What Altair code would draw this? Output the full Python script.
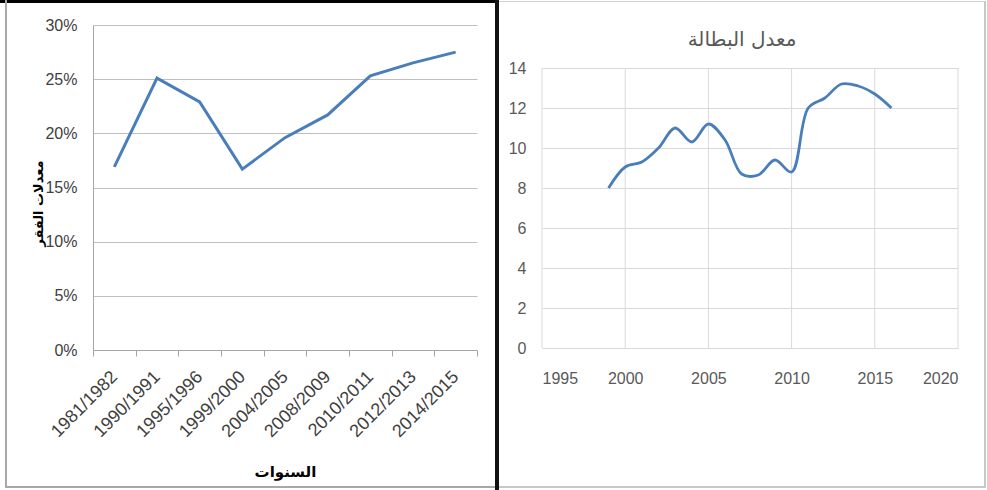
import altair as alt
import pandas as pd

# Poverty rates by survey period (left panel)
poverty_periods = ["1981/1982", "1990/1991", "1995/1996", "1999/2000", "2004/2005",
                   "2008/2009", "2010/2011", "2012/2013", "2014/2015"]
poverty_rates = [0.169, 0.251, 0.229, 0.167, 0.196, 0.217, 0.253, 0.265, 0.275]
poverty_ticks = [0, 0.05, 0.10, 0.15, 0.20, 0.25, 0.30]

# Unemployment rate by year (right panel)
unemp_years = [1999, 2000, 2001, 2002, 2003, 2004, 2005, 2006, 2007,
               2008, 2009, 2010, 2011, 2012, 2013, 2014, 2015, 2016]
unemp_rates = [8.0, 9.05, 9.3, 10.0, 11.0, 10.3, 11.2, 10.4, 8.7,
               8.65, 9.4, 8.8, 12.0, 12.5, 13.2, 13.1, 12.7, 12.0]
year_ticks = [1995, 2000, 2005, 2010, 2015, 2020]
unemp_ticks = [0, 2, 4, 6, 8, 10, 12, 14]

BLUE = "#4A7EBB"
LABEL_FONT = "Liberation Sans"
ARABIC_FONT = "DejaVu Sans"

one_row = alt.Data(values=[{"k": 0}])


def frame_rect(x, x2, y, y2, color, opacity=1.0):
    """Panel frame pieces, positioned in pixels relative to the plot origin."""
    return alt.Chart(one_row).mark_rect(color=color, opacity=opacity).encode(
        x=alt.value(x), x2=alt.value(x2), y=alt.value(y), y2=alt.value(y2)
    )


# ---------------- left panel: poverty rates ----------------
left_df = pd.DataFrame({"period": poverty_periods, "rate": poverty_rates})

left_line = alt.Chart(left_df).mark_line(color=BLUE, strokeWidth=3).encode(
    x=alt.X(
        "period:N", sort=poverty_periods, bandPosition=0.5,
        scale=alt.Scale(type="band", paddingInner=0, paddingOuter=0),
        axis=alt.Axis(
            title="السنوات", titleFont=ARABIC_FONT, titleFontSize=15,
            titleFontWeight="bold", titleColor="#000000",
            titleX=192, titleY=121, titleBaseline="middle", titleAlign="center",
            labelAngle=-45, labelAlign="right", labelBaseline="middle",
            labelPadding=18, labelFont=LABEL_FONT, labelFontSize=18,
            labelColor="#404040", tickBand="extent", ticks=True, tickSize=6,
            tickColor="#a6a6a6", domainColor="#a6a6a6", grid=False,
        ),
    ),
    y=alt.Y(
        "rate:Q", scale=alt.Scale(domain=[0, 0.30], nice=False, zero=True),
        axis=alt.Axis(
            values=poverty_ticks, format=".0%",
            title="معدلات الفقر", titleFont=ARABIC_FONT, titleFontSize=13,
            titleFontWeight="bold", titleColor="#000000",
            titleX=-55, titleY=178, titleAngle=270,
            titleAlign="center", titleBaseline="middle",
            labelFont=LABEL_FONT, labelFontSize=16, labelColor="#404040",
            labelPadding=16, ticks=False, domainColor="#a6a6a6",
            gridColor="#bfbfbf", gridWidth=1,
        ),
    ),
)

left_panel = alt.layer(
    frame_rect(-93, 406, -25, 465, "white", 0.0),   # panel extent
    left_line,
    frame_rect(-93, 404, -25, -22, "#000000"),      # heavy top edge
    frame_rect(402, 406, -25, 465, "#111111"),      # heavy right edge
    frame_rect(-88, -86, -25, 463, "#a8a8a8"),      # thin left edge
    frame_rect(-88, 402, 461, 463, "#a8a8a8"),      # thin bottom edge
).properties(width=384, height=325)

# ---------------- right panel: unemployment rate ----------------
# The panel shares its top edge with the left one; the value range starts
# 43px lower to leave room for the title.
R_TOP, R_BOTTOM = 43, 323
right_df = pd.DataFrame({"year": unemp_years, "rate": unemp_rates})
year_df = pd.DataFrame({"year": year_ticks})

x_right = alt.X(
    "year:Q", scale=alt.Scale(domain=[1995, 2020], nice=False, zero=False),
    axis=alt.Axis(
        values=year_ticks, format="d", title=None,
        labelFont=LABEL_FONT, labelFontSize=16, labelColor="#595959",
        labelPadding=22, ticks=False, domain=False, grid=False,
    ),
)

right_grid = alt.Chart(year_df).mark_rule(color="#d9d9d9", strokeWidth=1).encode(
    x=x_right, y=alt.value(R_TOP), y2=alt.value(R_BOTTOM)
)

right_line = alt.Chart(right_df).mark_line(
    color=BLUE, strokeWidth=2.8, interpolate="catmull-rom"
).encode(
    x=x_right,
    y=alt.Y(
        "rate:Q", scale=alt.Scale(domain=[0, 14], nice=False, range=[R_BOTTOM, R_TOP]),
        axis=alt.Axis(
            values=unemp_ticks, title=None,
            labelFont=LABEL_FONT, labelFontSize=16, labelColor="#595959",
            labelPadding=16, ticks=False, domain=False,
            gridColor="#d9d9d9", gridWidth=1,
        ),
    ),
)

right_title = alt.Chart(one_row).mark_text(
    text="معدل البطالة", font=ARABIC_FONT, fontSize=20, color="#595959",
    align="center", baseline="middle",
).encode(x=alt.value(200), y=alt.value(15))

right_panel = alt.layer(
    frame_rect(-43, 445, -25, 465, "white", 0.0),   # panel extent
    right_grid,
    right_line,
    right_title,
    frame_rect(-43, 444, -24, -23, "#d0d0d0"),      # top edge
    frame_rect(442, 444, -24, 463, "#c8c8c8"),      # right edge
    frame_rect(-43, 444, 461, 463, "#c8c8c8"),      # bottom edge
).properties(width=416, height=R_BOTTOM)

chart = alt.hconcat(left_panel, right_panel, spacing=0).properties(
    padding=0, background="white"
).configure_view(stroke=None).configure_concat(spacing=0)

chart.save("out.html", embed_options={"renderer": "svg", "actions": False})
